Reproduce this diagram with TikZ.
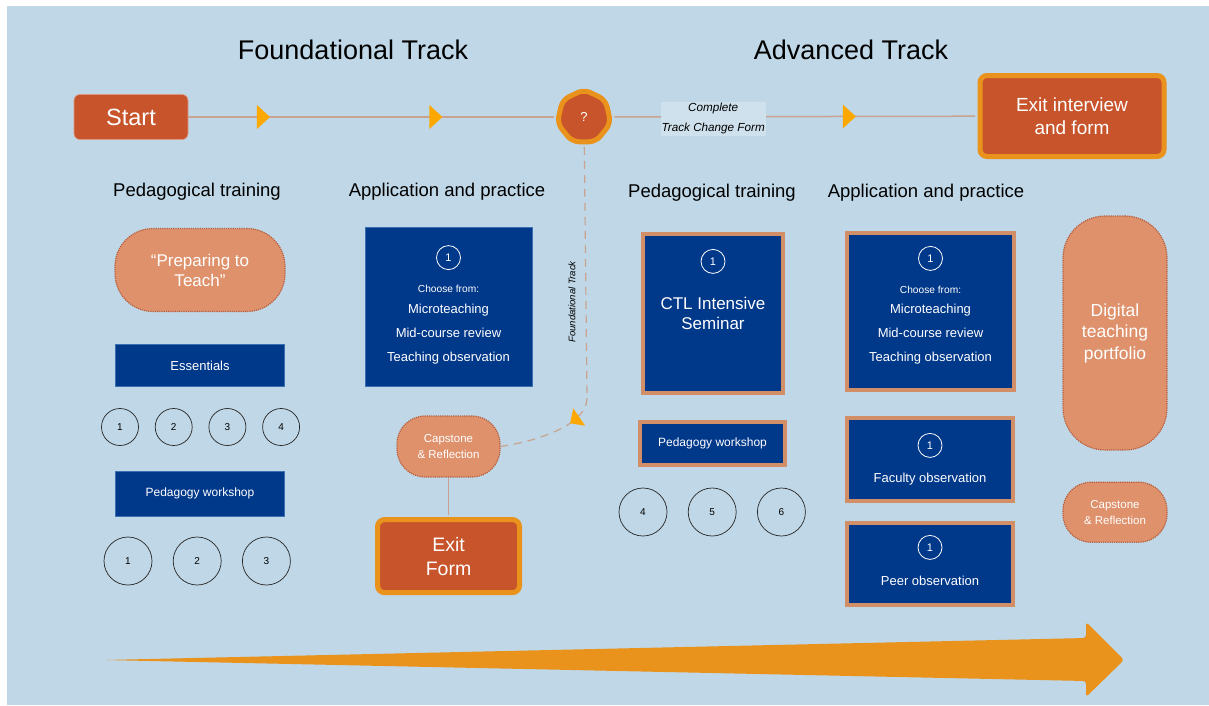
\documentclass[tikz,border=0pt]{standalone}
\usepackage{fontspec}
\setmainfont{Liberation Sans}
\usetikzlibrary{positioning, arrows.meta, shapes.geometric, decorations.markings}

\definecolor{bgblue}{RGB}{191,215,230}
\definecolor{rust}{RGB}{200,84,43}
\definecolor{amber}{RGB}{233,147,29}
\definecolor{tipamber}{RGB}{252,168,0}
\definecolor{salmon}{RGB}{222,145,107}
\definecolor{salmonedge}{RGB}{185,92,58}
\definecolor{navy}{RGB}{0,56,138}
\definecolor{navyedge}{RGB}{60,110,180}
\definecolor{tanedge}{RGB}{210,142,102}
\definecolor{wire}{RGB}{201,163,143}

\newcommand{\textsz}[2]{\fontsize{#1}{#2}\selectfont}

\begin{document}
\begin{tikzpicture}[x=1pt, y=1pt,
	title/.style={font=\textsz{27}{32}},
	head/.style={font=\textsz{18.5}{22}},
	startbox/.style={fill=rust, draw=rust!60!white, line width=0.6pt, rounded corners=6pt, minimum width=114pt, minimum height=45pt, text=white, font=\textsz{23.5}{28}},
	rustbox/.style={fill=rust, draw=amber, line width=5pt, rounded corners=7pt, text=white, align=center},
	pill/.style={fill=salmon, draw=salmonedge, densely dotted, line width=1.2pt, text=white, align=center},
	navybox/.style={fill=navy, draw=navyedge, line width=0.8pt, text=white, align=center},
	advbox/.style={fill=navy, draw=tanedge, line width=4pt, text=white, align=center},
	boxtext/.style={text=white, align=center, inner sep=0pt},
	num/.style={circle, draw=black!85, line width=0.7pt, inner sep=0pt, font=\textsz{10}{12}},
	ring/.style={circle, draw=white, line width=0.8pt, text=white, minimum size=24pt, inner sep=0pt, font=\textsz{11}{13}},
	formlabel/.style={fill=bgblue!75!white, minimum width=105pt, minimum height=34pt, inner sep=0pt, align=center, font=\itshape\textsz{11.7}{20}},
	track/.style={draw=wire, line width=1.5pt},
	dashline/.style={line width=1.2pt, dash pattern=on 8pt off 6pt},
	midtip/.style={postaction={decorate, decoration={markings, mark=at position #1 with {\arrow{Triangle[length=13pt, width=24pt, color=tipamber, line width=0pt]}}}}},
	curvetip/.style={postaction={decorate, decoration={markings, mark=at position #1 with {\arrow{Triangle[length=11pt, width=21pt, color=tipamber, line width=0pt]}}}}},
	]
	\fill[bgblue] (7,-6) rectangle (1209,-705);
	\useasboundingbox (0,0) rectangle (1209,-705);

	% top track
	\node[title] (ftitle) at (353,-50) {Foundational Track};
	\node[title] (atitle) at (851,-50) {Advanced Track};
	\node[startbox] (start) at (131,-117) {Start};
	\node[rustbox, regular polygon, regular polygon sides=7, minimum size=55pt, inner sep=0pt, font=\textsz{13}{15}] (choice) at (584,-117) {?};
	\node[rustbox, minimum width=184pt, minimum height=81pt, font=\textsz{19}{23}] (exitint) at (1072,-116) {Exit interview\\and form};

	\node[head] (ped1) at (197,-192) {Pedagogical training};
	\node[head] (app1) at (447,-192) {Application and practice};
	\node[head] (ped2) at (712,-193) {Pedagogical training};
	\node[head] (app2) at (926,-193) {Application and practice};

	% foundational: pedagogical training
	\node[pill, minimum width=170pt, minimum height=83pt, rounded corners=38pt, font=\textsz{17}{20}] (prep) at (200,-270) {“Preparing to\\Teach”};
	\node[navybox, minimum width=169pt, minimum height=42pt, below=32pt of prep, font=\textsz{13}{15}] (ess) {Essentials};
	\node[num, minimum size=37pt] (e1) at (120,-427) {1};
	\node[num, minimum size=37pt, right=16pt of e1] (e2) {2};
	\node[num, minimum size=37pt, right=16pt of e2] (e3) {3};
	\node[num, minimum size=37pt, right=16pt of e3] (e4) {4};
	\node[navybox, minimum width=169pt, minimum height=45pt, below=84pt of ess, font=\textsz{12}{14}] (pw1) {Pedagogy workshop};
	\node[num, minimum size=48pt] (w1) at (128,-561) {1};
	\node[num, minimum size=48pt, right=20.5pt of w1] (w2) {2};
	\node[num, minimum size=48pt, right=20.5pt of w2] (w3) {3};

	% foundational: application and practice
	\node[navybox, minimum width=167pt, minimum height=159pt] (apA) at (448.5,-306.5) {};
	\node[ring, below=18.6pt of apA.north] (apAn) {1};
	\node[boxtext, font=\textsz{10.2}{12}, below=15pt of apAn] (apAc) {Choose from:};
	\node[boxtext, font=\textsz{13}{24}, below=10.5pt of apAc] (apAl) {Microteaching\\Mid-course review\\Teaching observation};
	\node[pill, minimum width=103pt, minimum height=61pt, rounded corners=28pt, font=\textsz{11.5}{16}] (capL) at (448.5,-446.5) {Capstone\\\& Reflection};
	\node[rustbox, minimum width=142pt, minimum height=73pt, below=39.5pt of capL, font=\textsz{19.5}{24}] (exitform) {Exit\\Form};
	\node[rotate=90, font=\itshape\textsz{9.6}{11}] (fttag) at (572,-302) {Foundational Track};

	% advanced: pedagogical training
	\node[advbox, minimum width=140pt, minimum height=159pt, font=\textsz{17}{20}] (ctl) at (713,-313) {CTL Intensive\\Seminar};
	\node[ring, below=17.5pt of ctl.north] (ctln) {1};
	\node[advbox, minimum width=145pt, minimum height=43pt, font=\textsz{12}{14}] (pw2) at (712.5,-443.5) {Pedagogy workshop};
	\node[num, minimum size=48pt] (c4) at (643,-512) {4};
	\node[num, minimum size=48pt, right=20.5pt of c4] (c5) {5};
	\node[num, minimum size=48pt, right=20.5pt of c5] (c6) {6};

	% advanced: application and practice
	\node[advbox, minimum width=167pt, minimum height=157pt] (apB) at (930.5,-311.5) {};
	\node[ring, below=15pt of apB.north] (apBn) {1};
	\node[boxtext, font=\textsz{10.2}{12}, below=15pt of apBn] (apBc) {Choose from:};
	\node[boxtext, font=\textsz{13}{24}, below=10.5pt of apBc] (apBl) {Microteaching\\Mid-course review\\Teaching observation};
	\node[advbox, minimum width=166pt, minimum height=83pt] (faculty) at (930,-459.5) {};
	\node[ring, below=17pt of faculty.north] (facultyn) {1};
	\node[boxtext, font=\textsz{13}{15}, below=15pt of facultyn] (facultyt) {Faculty observation};
	\node[advbox, minimum width=166pt, minimum height=82pt] (peer) at (930,-564) {};
	\node[ring, below=14pt of peer.north] (peern) {1};
	\node[boxtext, font=\textsz{13}{15}, below=16pt of peern] (peert) {Peer observation};
	\node[pill, minimum width=104pt, minimum height=234pt, rounded corners=42pt, font=\textsz{17.5}{21.5}] (portfolio) at (1115,-333) {Digital\\teaching\\portfolio};
	\node[pill, minimum width=104pt, minimum height=60pt, rounded corners=28pt, below=31pt of portfolio, font=\textsz{11.5}{16}] (capR) {Capstone\\\& Reflection};

	\coordinate (bend) at (587,-398);

	\draw[track, shorten >=2.5pt, midtip=0.222, midtip=0.691] (start) -- (choice);
	\draw[track, shorten <=2.5pt, shorten >=2.5pt, midtip=0.667] (choice) -- node[formlabel, pos=0.277, yshift=-2pt] {Complete\\Track Change Form} (exitint);
	\draw[track, dashline, shorten <=2.5pt] (choice) -- (bend);
	\draw[track, dashline, curvetip=0.3] (bend) .. controls +(0,-26) and +(40,6) .. (capL.east);
	\draw[track, line width=1pt, shorten >=2.5pt] (capL) -- (exitform);

	% progress arrow
	\fill[amber, rounded corners=3pt] (104,-660) -- (1086,-638) -- (1086,-622) -- (1124,-660) -- (1086,-697) -- (1086,-681) -- cycle;
\end{tikzpicture}
\end{document}
